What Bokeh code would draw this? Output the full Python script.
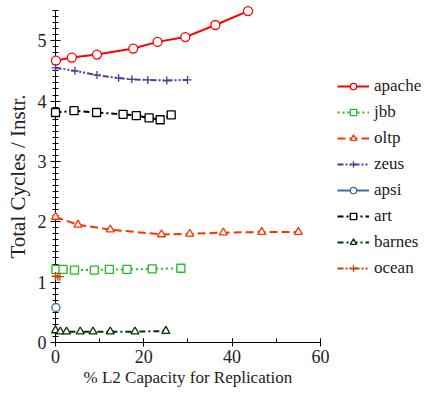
from bokeh.plotting import figure
from bokeh.models import Legend, LegendItem, Range1d, SingleIntervalTicker, Title
from bokeh.embed import file_html
from bokeh.resources import INLINE

# ---- data ----
apache_x = [0.1, 3.7, 9.4, 17.6, 23.1, 29.4, 36.2, 43.6]
apache_y = [4.67, 4.72, 4.77, 4.87, 4.98, 5.06, 5.26, 5.49]

jbb_x = [0.1, 1.7, 4.3, 8.8, 12.2, 16.2, 21.9, 28.4]
jbb_y = [1.21, 1.21, 1.20, 1.20, 1.21, 1.21, 1.22, 1.23]

oltp_x = [0.0, 5.1, 12.4, 24.0, 30.4, 38.0, 46.7, 55.0]
oltp_y = [2.08, 1.95, 1.87, 1.79, 1.80, 1.82, 1.83, 1.83]

zeus_x = [0.0, 4.4, 9.4, 14.3, 17.3, 20.9, 25.2, 29.9]
zeus_y = [4.55, 4.50, 4.43, 4.38, 4.36, 4.35, 4.34, 4.35]

apsi_x = [0.1]
apsi_y = [0.58]

art_x = [0.0, 4.2, 9.3, 15.3, 18.3, 21.2, 23.7, 26.2]
art_y = [3.81, 3.84, 3.81, 3.78, 3.76, 3.72, 3.69, 3.77]

barnes_x = [0.0, 1.1, 2.5, 5.6, 8.5, 12.4, 18.0, 25.0]
barnes_y = [0.20, 0.18, 0.18, 0.18, 0.18, 0.18, 0.18, 0.19]

ocean_x = [0.0, 0.5, 1.0]
ocean_y = [1.10, 1.09, 1.09]

x_title = "% L2 Capacity for Replication"
y_title = "Total Cycles / Instr."

series = [
    ("apache", apache_x, apache_y, "#ff0000", "solid", "circle", 9),
    ("jbb", jbb_x, jbb_y, "#22bb22", "2 3", "square", 8),
    ("oltp", oltp_x, oltp_y, "#ff3300", "8 4", "triangle", 8),
    ("zeus", zeus_x, zeus_y, "#4b3f9a", "6 2 2 2 2 2", "cross", 8),
    ("apsi", apsi_x, apsi_y, "#3a6ea5", "solid", "circle", 8),
    ("art", art_x, art_y, "#000000", "6 3 2 3", "square", 8),
    ("barnes", barnes_x, barnes_y, "#003300", "6 3 2 3", "triangle", 8),
    ("ocean", ocean_x, ocean_y, "#cc4400", "6 2 2 2 2 2", "cross", 8),
]

FONT = "Liberation Serif"

p = figure(width=431, height=398, output_backend="svg", toolbar_location=None,
           x_range=Range1d(0, 84.7), y_range=Range1d(0, 5.5),
           min_border_left=55, min_border_right=2, min_border_top=10,
           min_border_bottom=56)
p.outline_line_color = None
p.xgrid.visible = False
p.ygrid.visible = False
p.background_fill_color = "white"
p.border_fill_color = "white"

p.xaxis.ticker = SingleIntervalTicker(interval=20, num_minor_ticks=2)
p.yaxis.ticker = SingleIntervalTicker(interval=1, num_minor_ticks=10)
p.xaxis.bounds = (0, 60)

for ax in (p.xaxis, p.yaxis):
    ax.axis_line_color = "black"
    ax.major_tick_line_color = "black"
    ax.minor_tick_line_color = "black"
    ax.major_label_text_font = FONT
    ax.major_label_text_font_size = "18px"
    ax.major_label_text_color = "#222222"
    ax.axis_label_text_font = FONT
    ax.axis_label_text_font_style = "normal"
    ax.axis_label_text_color = "#222222"

p.yaxis.axis_label_text_font_size = "21px"
p.xaxis.major_tick_in = 4
p.xaxis.major_tick_out = 4
p.xaxis.minor_tick_in = 4
p.xaxis.minor_tick_out = 0
p.yaxis.major_tick_in = 5
p.yaxis.major_tick_out = 5
p.yaxis.minor_tick_in = 3
p.yaxis.minor_tick_out = 3
p.yaxis.axis_label = y_title
p.xaxis.major_label_standoff = 3
p.yaxis.major_label_standoff = 4
p.yaxis.axis_label_standoff = 5

# x-axis title centred under the 0..60 axis span (the frame extends to hold the legend)
xt = Title(text=x_title, align="left", offset=28, standoff=0,
           text_font=FONT, text_font_size="17px", text_font_style="normal",
           text_color="#222222")
p.add_layout(xt, "below")

items = []
for name, xs, ys, color, dash, marker, size in series:
    r_line = p.line(xs, ys, line_color=color, line_width=2, line_dash=dash)
    r_pt = p.scatter(xs, ys, marker=marker, size=size, line_color=color,
                     fill_color="white", line_width=1.3, level="overlay")
    items.append(LegendItem(label=name, renderers=[r_line, r_pt]))

legend = Legend(items=items, location=(282, 64), padding=0, margin=0,
                spacing=6, glyph_width=32, glyph_height=16, label_height=16,
                label_standoff=5, label_text_font=FONT,
                label_text_font_size="17px", label_text_color="#222222",
                border_line_color=None, background_fill_alpha=0)
p.add_layout(legend, "center")

open("out.html", "w").write(file_html(p, INLINE))
